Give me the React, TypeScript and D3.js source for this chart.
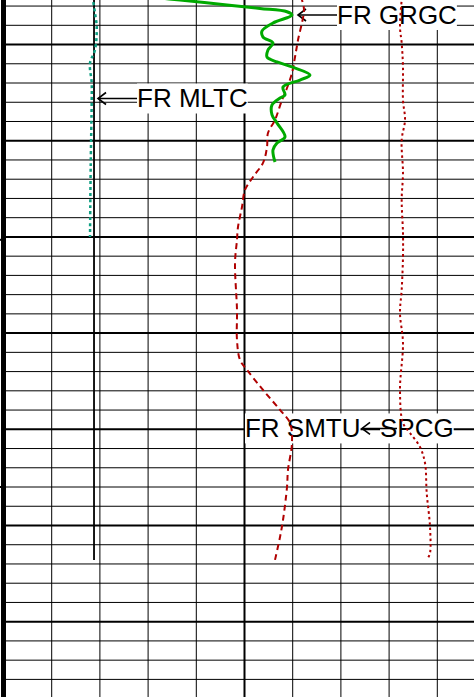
import React, { useLayoutEffect, useRef } from "react";
import * as d3 from "d3";

const W = 474;
const H = 697;

// Depth axis (ft) and track scale (0-100)
const depthTop = 4995.37;
const depthBottom = 5067.83;
const minorDepths = d3.range(4996, 5068, 2);
const valueTicks = d3.range(0, 101, 10);
const axisTickDepths = [5020.3, 5046.0];

// FR GRGC (green solid)
const grgcDepth = [4995.06, 4995.37, 4995.89, 4996.25, 4996.59, 4996.93, 4997.76, 4998.59, 4999.22, 4999.84, 5000.57, 5001.30, 5001.81, 5002.33, 5003.17, 5003.69, 5004.41, 5005.25, 5005.56, 5006.28, 5007.32, 5008.16, 5009.61, 5010.24, 5010.96, 5012.21];
const grgcValue = [30.39, 36.62, 46.37, 53.22, 58.82, 59.85, 55.91, 53.63, 53.84, 55.91, 54.87, 54.67, 56.74, 59.85, 63.59, 61.51, 57.99, 58.40, 57.37, 55.71, 55.71, 56.74, 58.40, 56.74, 55.91, 56.33];

// FR SMTU (dark red dashed)
const smtuDepth = [4995.0, 4995.37, 4996.41, 4999.53, 5001.30, 5002.96, 5004.52, 5005.77, 5007.84, 5009.20, 5010.65, 5012.31, 5013.77, 5015.12, 5016.89, 5018.97, 5020.32, 5022.71, 5027.59, 5030.71, 5032.79, 5033.83, 5035.91, 5037.99, 5039.34, 5041.42, 5044.23, 5046.00, 5049.43, 5051.19, 5053.58];
const smtuValue = [61.7, 61.93, 62.34, 61.10, 60.48, 59.85, 58.82, 57.78, 56.33, 54.87, 54.67, 53.84, 51.76, 50.10, 49.48, 48.65, 48.44, 48.03, 48.44, 48.44, 49.07, 50.52, 53.84, 57.37, 59.44, 59.85, 59.02, 58.82, 57.99, 57.37, 56.33];

// SPCG (dark red dotted)
const spcgDepth = [4995.0, 4995.37, 4998.18, 4999.84, 5002.33, 5005.77, 5007.84, 5009.92, 5013.35, 5016.16, 5019.59, 5022.09, 5025.52, 5027.91, 5031.03, 5035.91, 5039.34, 5040.38, 5041.84, 5043.50, 5046.62, 5050.15, 5052.86, 5053.37];
const spcgValue = [82.7, 82.61, 82.26, 82.61, 82.88, 82.88, 83.30, 82.61, 82.88, 82.61, 82.88, 82.88, 82.61, 82.26, 82.88, 82.26, 82.88, 84.34, 86.41, 87.45, 87.80, 88.49, 88.49, 88.07];

// FR MLTC (teal dotted)
const mltcDepth = [4995.0, 4995.37, 4996.72, 4998.18, 5000.57, 5001.92, 5004.00, 5005.77, 5012.73, 5020.01];
const mltcValue = [18.5, 18.57, 18.98, 19.34, 18.98, 17.95, 18.30, 18.30, 18.09, 17.95];

// Black reference line
const refDepth = [4995.0, 5053.58];
const refValue = [18.78, 18.78];

// Labels
const labelText = ["FR GRGC", "FR MLTC", "SPCG", "FR SMTU"];
const labelTipDepth = [4996.93, 5005.61, 5039.91, 5039.91];
const labelTipValue = [61.1, 19.61, 74.38, 50.1];
const labelArrow = [true, true, true, false];

export default function App() {
  const y = d3.scaleLinear().domain([depthTop, depthBottom]).range([0, H]);
  const x = d3.scaleLinear().domain([0, 100]).range([3.5, 485.5]);

  const mk = (ds: number[], vs: number[]) =>
    d3
      .line<number>()
      .x((_, i) => x(vs[i]))
      .y((d) => y(d))
      .curve(d3.curveCatmullRom.alpha(0.5))(ds) || "";

  const textRefs = useRef<(SVGTextElement | null)[]>([]);
  const rectRefs = useRef<(SVGRectElement | null)[]>([]);

  useLayoutEffect(() => {
    textRefs.current.forEach((t, i) => {
      const r = rectRefs.current[i];
      if (!t || !r) return;
      const b = t.getBBox();
      r.setAttribute("x", String(b.x));
      r.setAttribute("y", String(b.y));
      r.setAttribute("width", String(b.width));
      r.setAttribute("height", String(b.height));
    });
  }, []);

  const arrowLen = [39, 39, 35, 0];
  const textGap = [39, 39, 18, 0];

  return (
    <div style={{ position: "fixed", left: 0, top: 0, width: W, height: H, background: "#fff" }}>
      <svg width={W} height={H} style={{ display: "block" }}>
        <defs>
          <clipPath id="clip">
            <rect x={0} y={0} width={W} height={H} />
          </clipPath>
        </defs>
        <rect x={0} y={0} width={W} height={H} fill="#fff" />
        <g clipPath="url(#clip)">
          {/* vertical grid */}
          {valueTicks.map((v) => (
            <line
              key={"v" + v}
              x1={x(v)}
              x2={x(v)}
              y1={0}
              y2={H}
              stroke="#000"
              strokeWidth={v === 50 ? 2 : 1}
            />
          ))}
          {/* horizontal grid */}
          {minorDepths.map((d) => (
            <line
              key={"h" + d}
              x1={x(0)}
              x2={W}
              y1={y(d)}
              y2={y(d)}
              stroke="#000"
              strokeWidth={d % 10 === 0 ? 2 : 1}
            />
          ))}
          {/* left axis */}
          <line x1={3.5} x2={3.5} y1={0} y2={H} stroke="#000" strokeWidth={5} />
          {axisTickDepths.map((d) => (
            <line key={"t" + d} x1={0} x2={3} y1={y(d)} y2={y(d)} stroke="#000" strokeWidth={2} />
          ))}

          {/* labels */}
          {labelText.map((t, i) => {
            const tx = x(labelTipValue[i]);
            const ty = y(labelTipDepth[i]);
            const textX = labelArrow[i] ? tx + textGap[i] : tx - 0;
            return (
              <g key={t}>
                <rect ref={(el) => { rectRefs.current[i] = el; }} fill="#fff" />
                <text
                  ref={(el) => { textRefs.current[i] = el; }}
                  x={textX}
                  y={ty + 9}
                  fontFamily="'Liberation Sans', Arial, sans-serif"
                  fontSize={26}
                  fill="#000"
                >
                  {t}
                </text>
                {labelArrow[i] && (
                  <g stroke="#000" strokeWidth={1.6} fill="none">
                    <line x1={tx} x2={tx + arrowLen[i]} y1={ty} y2={ty} />
                    <polyline points={`${tx + 8},${ty - 6} ${tx},${ty} ${tx + 8},${ty + 6}`} />
                  </g>
                )}
              </g>
            );
          })}

          {/* curves */}
          <path d={mk(refDepth, refValue)} fill="none" stroke="#000" strokeWidth={1.8} />
          <path d={mk(mltcDepth, mltcValue)} fill="none" stroke="#0e9e82" strokeWidth={2.5} strokeDasharray="3,3" />
          <path d={mk(smtuDepth, smtuValue)} fill="none" stroke="#b00000" strokeWidth={2} strokeDasharray="6,4" />
          <path d={mk(spcgDepth, spcgValue)} fill="none" stroke="#b00000" strokeWidth={2} strokeDasharray="2.5,3" />
          <path d={mk(grgcDepth, grgcValue)} fill="none" stroke="#00aa00" strokeWidth={3} strokeLinejoin="round" />
        </g>
      </svg>
    </div>
  );
}
